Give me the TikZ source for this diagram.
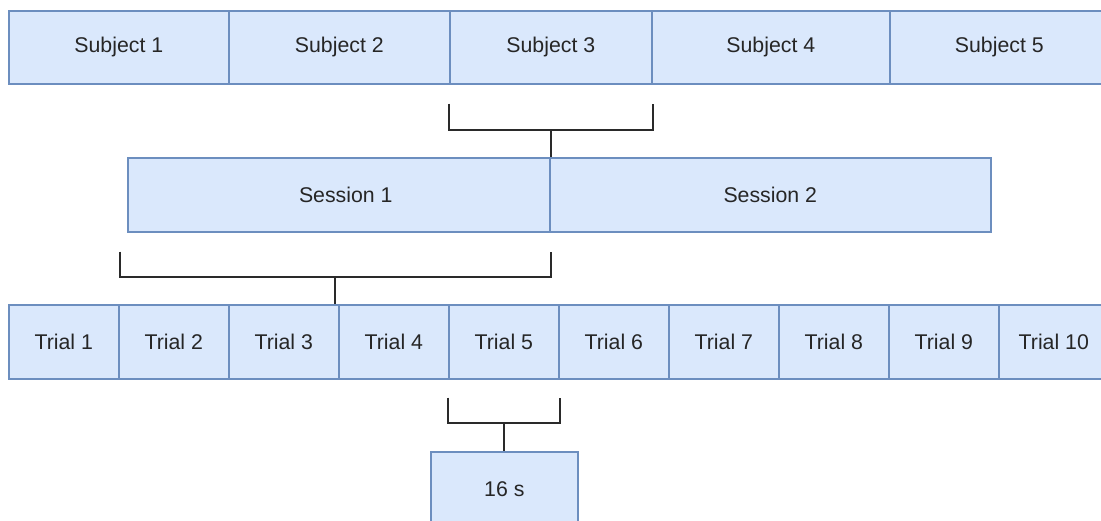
\documentclass[tikz,border=0pt]{standalone}
\usepackage{fontspec}
\setmainfont{Liberation Sans}
\usetikzlibrary{calc}
\definecolor{cellfill}{HTML}{DAE8FC}
\definecolor{cellline}{HTML}{6C8EBF}
\definecolor{txt}{HTML}{262626}
\definecolor{brk}{HTML}{2A2A2A}
\begin{document}
\begin{tikzpicture}[x=1pt,y=-1pt,
  cell/.style={draw=cellline, fill=cellfill, line width=1.6pt, inner sep=0pt,
    anchor=north west, minimum height=73pt,
    font=\fontsize{21.3}{25}\selectfont, text=txt},
  brace/.style={draw=brk, line width=2pt, line join=miter}]
\useasboundingbox (0,0) rectangle (1101,521);
\clip (0,0) rectangle (1101,521);

% subjects
\node[cell, minimum width=220pt] (s1) at (8,10)   {Subject 1};
\node[cell, minimum width=221pt] (s2) at (228,10) {Subject 2};
\node[cell, minimum width=202pt] (s3) at (449,10) {Subject 3};
\node[cell, minimum width=238pt] (s4) at (651,10) {Subject 4};
\node[cell, minimum width=219pt] (s5) at (889,10) {Subject 5};

% sessions
\node[cell, minimum width=422pt, minimum height=74pt] (se1) at (127,157) {\hspace*{14pt}Session 1};
\node[cell, minimum width=441pt, minimum height=74pt] (se2) at (549,157) {Session 2};

% trials
\foreach \i in {1,...,10}{
  \node[cell, minimum width=110pt, minimum height=74pt] (t\i) at ({8+110*(\i-1)},304) {Trial \i};
}

% duration
\node[cell, minimum width=147pt, minimum height=74pt] (d) at (430,451) {16 s};

% subject -> sessions bracket
\coordinate (b1l) at ([yshift=-19pt]s3.south west);
\coordinate (b1r) at ([yshift=-19pt]s3.south east);
\coordinate (b1m) at ([yshift=27pt]se1.north east);
\draw[brace] (b1l) -- (b1l |- b1m) -- (b1r |- b1m) -- (b1r);
\draw[brace] (b1m) -- (se1.north east);

% session -> trials bracket
\coordinate (b2r) at ([yshift=-19pt]se1.south east);
\coordinate (b2l) at (t1.north east |- b2r);
\coordinate (b2h) at ([yshift=27pt]t1.north east);
\coordinate (b2m) at ($(b2l |- b2h)!0.5!(b2r |- b2h)$);
\draw[brace] (b2l) -- (b2l |- b2h) -- (b2r |- b2h) -- (b2r);
\draw[brace] (b2m) -- (b2m |- t3.north);

% trial -> duration bracket
\coordinate (b3l) at ([yshift=-18pt]t5.south west);
\coordinate (b3r) at ([yshift=-18pt]t5.south east);
\coordinate (b3h) at ([yshift=28pt]d.north);
\draw[brace] (b3l) -- (b3l |- b3h) -- (b3r |- b3h) -- (b3r);
\draw[brace] (b3h) -- (d.north);
\end{tikzpicture}
\end{document}
